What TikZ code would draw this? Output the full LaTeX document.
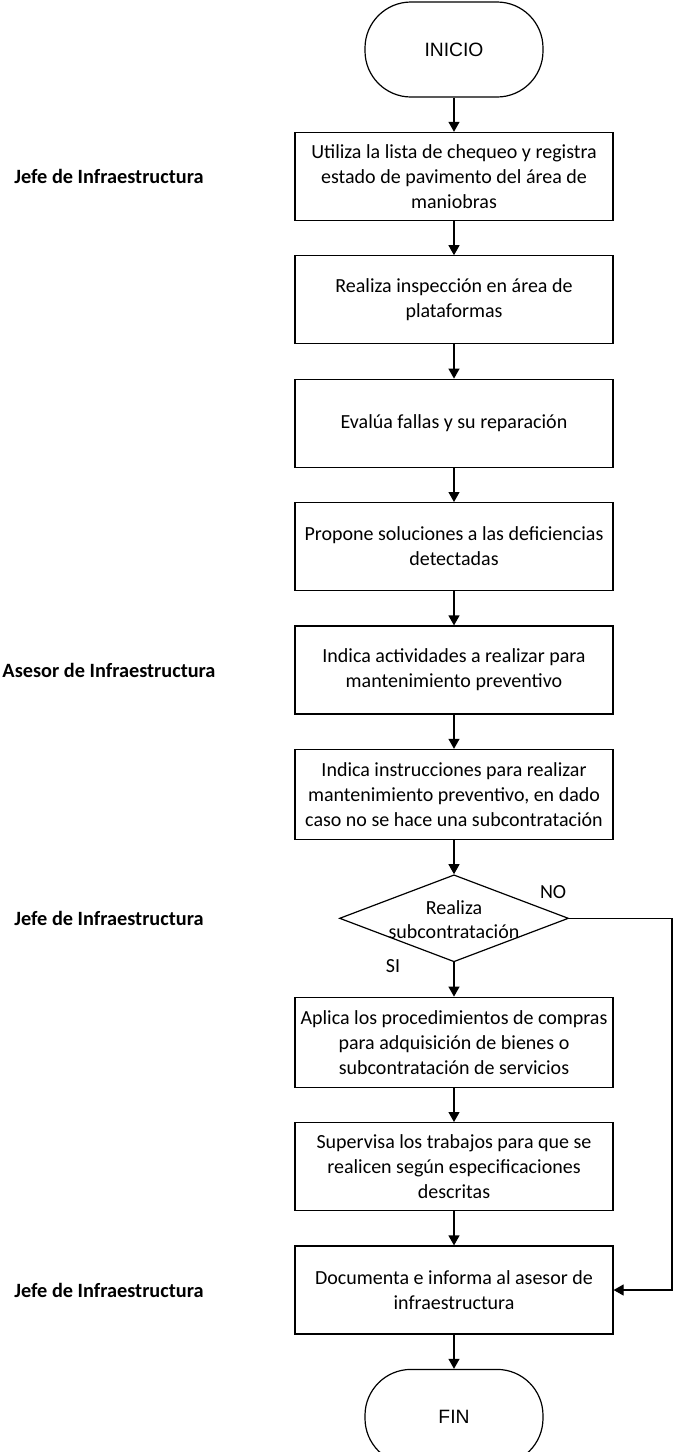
\documentclass[tikz,border=0pt]{standalone}
\usepackage{fontspec}
\setmainfont{Carlito}
\newfontfamily\arialfont{Liberation Sans}
\usepackage{tikz}
\usetikzlibrary{arrows.meta, positioning}
\usetikzlibrary{shapes.geometric}

\begin{document}
\begin{tikzpicture}[x=1pt, y=1pt, every node/.style={align=center, inner sep=2pt},
        caja/.style={draw, line width=1.2pt, minimum width=318pt, minimum height=88pt, font=\fontsize{20}{25}\selectfont},
        term/.style={draw, line width=1.2pt, rounded corners=46pt, minimum width=178pt, minimum height=95pt, font=\arialfont\fontsize{19.3}{22}\selectfont},
        decision/.style={draw, diamond, line width=1.2pt, minimum width=229pt, minimum height=87pt, inner sep=0pt},
        rol/.style={font=\bfseries\fontsize{20.3}{24}\selectfont},
        etiq/.style={font=\fontsize{20}{24}\selectfont},
        flecha/.style={line width=1.2pt, -{Triangle[width=11pt, length=10pt]}}]
        \useasboundingbox (0,0) rectangle (673,-1452);
        \coordinate (lcol) at (109,0);
        \coordinate (rt) at (672,0);

        \node[term] (0) at (454,-49.5) {INICIO};
        \node[caja, below=34.2pt of 0] (1) {Utiliza la lista de chequeo y registra\\estado de pavimento del área de\\maniobras};
        \node[caja, below=34.2pt of 1] (2) {Realiza inspección en área de\\plataformas};
        \node[caja, below=34.2pt of 2] (3) {Evalúa fallas y su reparación};
        \node[caja, below=34.2pt of 3] (4) {Propone soluciones a las deficiencias\\detectadas};
        \node[caja, below=34.2pt of 4] (5) {Indica actividades a realizar para\\mantenimiento preventivo};
        \node[caja, below=34.2pt of 5, minimum height=90pt] (6) {Indica instrucciones para realizar\\mantenimiento preventivo, en dado\\caso no se hace una subcontratación};
        \node[decision, below=34.2pt of 6] (7) {};
        \node[etiq] (7txt) at ([yshift=-1.5pt]7.center) {Realiza\\subcontratación};
        \node[caja, below=34.2pt of 7, minimum height=90pt] (8) {Aplica los procedimientos de compras\\para adquisición de bienes o\\subcontratación de servicios};
        \node[caja, below=34.2pt of 8] (9) {Supervisa los trabajos para que se\\realicen según especificaciones\\descritas};
        \node[caja, below=34.2pt of 9] (10) {Documenta e informa al asesor de\\infraestructura};
        \node[term, below=34.2pt of 10] (11) {FIN};

        % etiquetas del decision
        \node[etiq] (no) at ([xshift=-16pt, yshift=26pt]7.east) {NO};
        \node[etiq] (si) at ([xshift=-61pt, yshift=-4pt]7.south) {SI};

        % responsables
        \node[rol] (r1) at (lcol |- 1) {Jefe de Infraestructura};
        \node[rol] (r2) at (lcol |- 5) {Asesor de Infraestructura};
        \node[rol] (r3) at (lcol |- 7) {Jefe de Infraestructura};
        \node[rol] (r4) at (lcol |- 10) {Jefe de Infraestructura};

        \draw[flecha] (0) -- (1);
        \draw[flecha] (1) -- (2);
        \draw[flecha] (2) -- (3);
        \draw[flecha] (3) -- (4);
        \draw[flecha] (4) -- (5);
        \draw[flecha] (5) -- (6);
        \draw[flecha] (6) -- (7);
        \draw[flecha] (7) -- (8);
        \draw[flecha] (8) -- (9);
        \draw[flecha] (9) -- (10);
        \draw[flecha] (10) -- (11);
        \draw[flecha] (7.east) -- (7.east -| rt) |- (10.east);
    \end{tikzpicture}
\end{document}
